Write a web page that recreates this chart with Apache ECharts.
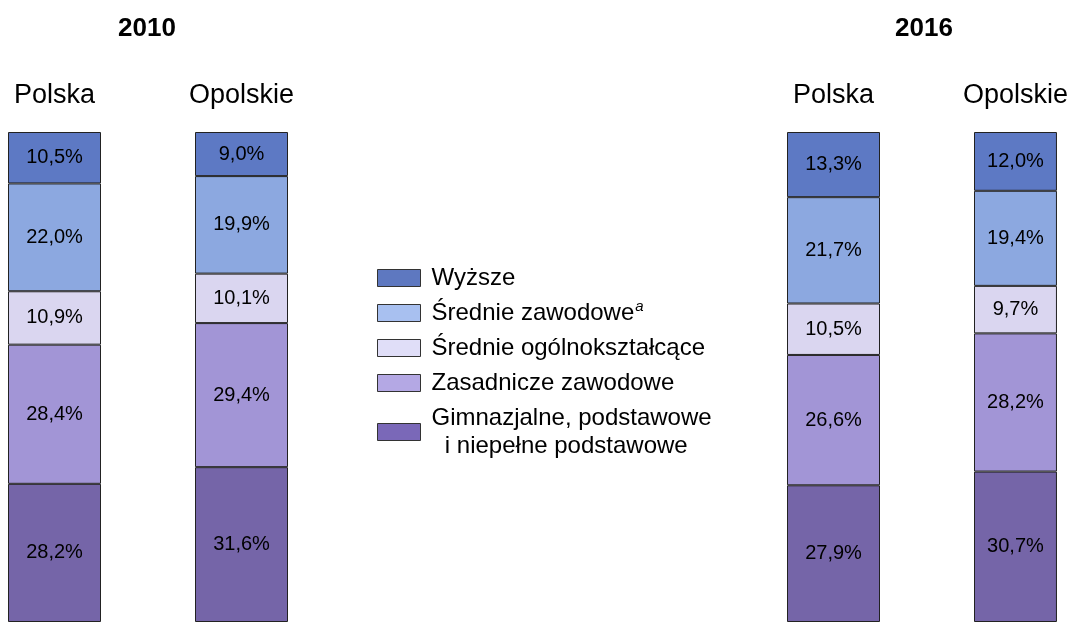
<!DOCTYPE html>
<html lang="pl">
<head>
    <meta charset="UTF-8">
    <title>Wykształcenie 2010 i 2016</title>
    <script src="https://cdn.jsdelivr.net/npm/echarts@6/dist/echarts.min.js"></script>
    <style>
        html, body { margin: 0; padding: 0; background: #fff; }
        #mChart { width: 1071px; height: 622px; }
    </style>
</head>
<body>
    <div id="mChart"></div>

    <script type="text/javascript">
        // bars in order: 2010 Polska, 2010 Opolskie, 2016 Polska, 2016 Opolskie
        const years = ['2010', '2016']
        const regions = ['Polska', 'Opolskie', 'Polska', 'Opolskie']
        const levels = ['Gimnazjalne, podstawowe i niepełne podstawowe', 'Zasadnicze zawodowe', 'Średnie ogólnokształcące', 'Średnie zawodowe', 'Wyższe']
        const gimnazjalne = [28.2, 31.6, 27.9, 30.7]
        const zasadnicze = [28.4, 29.4, 26.6, 28.2]
        const srednieOgol = [10.9, 10.1, 10.5, 9.7]
        const srednieZaw = [22.0, 19.9, 21.7, 19.4]
        const wyzsze = [10.5, 9.0, 13.3, 12.0]

        const values = [gimnazjalne, zasadnicze, srednieOgol, srednieZaw, wyzsze]
        const colors = ['#7565a8', '#a295d6', '#dad6f0', '#8ca8e0', '#5d79c4']
        const legendColors = ['#7a68b8', '#b4a8e4', '#e0def8', '#a8c0f0', '#5e78c0']
        const font = 'Arial, "Liberation Sans", sans-serif'

        const barLeft = [8, 195, 787, 974]
        const barW = 93

        var mChart = echarts.init(document.getElementById('mChart'))

        let grids = [], xAxes = [], yAxes = [], series = []
        regions.forEach((r, i) => {
            grids.push({ left: barLeft[i], width: barW, top: 132, height: 492 })
            xAxes.push({
                type: 'category', gridIndex: i, position: 'top', data: [r],
                axisLine: { show: false }, axisTick: { show: false },
                axisLabel: { fontSize: 27, color: '#000', fontFamily: font, margin: 23 }
            })
            yAxes.push({ type: 'value', gridIndex: i, min: 0, max: 100, show: false })
            levels.forEach((name, k) => {
                series.push({
                    name: name, type: 'bar', stack: 's' + i,
                    xAxisIndex: i, yAxisIndex: i,
                    barWidth: '100%',
                    data: [values[k][i]],
                    itemStyle: { color: colors[k], borderColor: '#222', borderWidth: 1 },
                    label: {
                        show: true, position: 'inside', color: '#000',
                        fontSize: 20, fontFamily: font,
                        formatter: p => p.value.toFixed(1).replace('.', ',') + '%'
                    }
                })
            })
        })

        mChart.setOption({
            animation: false,
            title: [
                { text: years[0], left: 142, top: 11, textAlign: 'center',
                  textStyle: { fontSize: 26, fontWeight: 'bold', color: '#000', fontFamily: font } },
                { text: years[1], left: 919, top: 11, textAlign: 'center',
                  textStyle: { fontSize: 26, fontWeight: 'bold', color: '#000', fontFamily: font } }
            ],
            legend: {
                orient: 'vertical', left: 372, top: 259,
                icon: 'rect',
                itemWidth: 43, itemHeight: 17, itemGap: 7,
                data: levels.slice().reverse().map(n => ({
                    name: n,
                    itemStyle: { color: legendColors[levels.indexOf(n)], borderColor: '#333', borderWidth: 1 }
                })),
                formatter: n => {
                    if (n === 'Średnie zawodowe') return n + '{sup|a}'
                    if (n === levels[0]) return 'Gimnazjalne, podstawowe\n  i niepełne podstawowe'
                    return n
                },
                textStyle: {
                    fontSize: 24, lineHeight: 28, color: '#000', fontFamily: font,
                    padding: [0, 0, 0, 6],
                    rich: { sup: { fontSize: 15, fontStyle: 'italic', verticalAlign: 'top', padding: [0, 0, 16, 1], fontFamily: font } }
                }
            },
            grid: grids,
            xAxis: xAxes,
            yAxis: yAxes,
            series: series
        })
    </script>
</body>
</html>
